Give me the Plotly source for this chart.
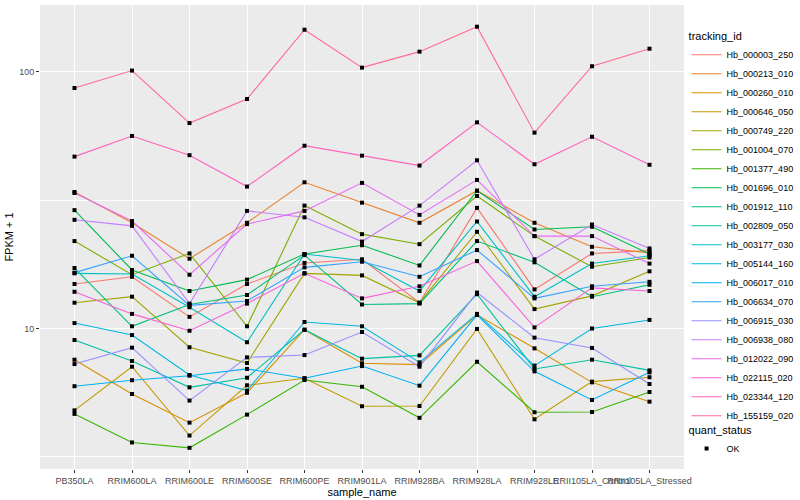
import plotly.graph_objects as go

samples = ["PB350LA", "RRIM600LA", "RRIM600LE", "RRIM600SE", "RRIM600PE", "RRIM901LA",
           "RRIM928BA", "RRIM928LA", "RRIM928LE", "RRII105LA_Control", "RRII105LA_Stressed"]

ids = ["Hb_000003_250", "Hb_000213_010", "Hb_000260_010", "Hb_000646_050", "Hb_000749_220",
       "Hb_001004_070", "Hb_001377_490", "Hb_001696_010", "Hb_001912_110", "Hb_002809_050",
       "Hb_003177_030", "Hb_005144_160", "Hb_006017_010", "Hb_006634_070", "Hb_006915_030",
       "Hb_006938_080", "Hb_012022_090", "Hb_022115_020", "Hb_023344_120", "Hb_155159_020"]

colors = ["#F8766D", "#EA8331", "#D89000", "#C09B00", "#A3A500", "#7CAE00", "#39B600", "#00BB4E",
          "#00BF7D", "#00C1A3", "#00BFC4", "#00BAE0", "#00B0F6", "#35A2FF", "#9590FF", "#C77CFF",
          "#E76BF3", "#FA62DB", "#FF62BC", "#FF6C91"]

# FPKM + 1 per gene, in the order of `samples`
Hb_000003_250 = [14.9, 15.9, 11.1, 14.9, 18.0, 18.6, 12.6, 29.5, 14.2, 19.6, 20.1]
Hb_000213_010 = [34.0, 25.8, 18.7, 25.8, 37.1, 30.9, 25.8, 34.4, 25.8, 20.8, 19.7]
Hb_000260_010 = [7.56, 5.56, 4.30, 5.62, 9.89, 7.32, 7.23, 11.3, 8.37, 6.17, 5.19]
Hb_000646_050 = [4.80, 7.10, 3.83, 6.01, 6.40, 4.98, 4.99, 9.96, 4.43, 6.21, 6.46]
Hb_000749_220 = [12.6, 13.3, 8.45, 7.34, 16.4, 16.1, 12.6, 23.8, 11.9, 13.4, 16.7]
Hb_001004_070 = [21.9, 16.2, 19.6, 10.2, 30.1, 23.3, 21.3, 32.8, 22.9, 17.4, 18.9]
Hb_001377_490 = [4.65, 3.60, 3.43, 4.62, 6.30, 5.93, 4.49, 7.42, 4.72, 4.73, 5.66]
Hb_001696_010 = [28.9, 16.9, 14.0, 15.5, 19.5, 21.1, 17.6, 34.4, 24.3, 24.9, 19.5]
Hb_001912_110 = [17.2, 10.2, 12.4, 13.5, 19.3, 12.4, 12.5, 21.9, 18.1, 13.3, 14.8]
Hb_002809_050 = [9.02, 7.47, 5.90, 6.43, 9.89, 7.63, 7.86, 13.6, 6.96, 7.56, 6.87]
Hb_003177_030 = [16.4, 16.3, 12.1, 8.84, 19.5, 18.4, 14.0, 26.1, 13.3, 17.9, 19.2]
Hb_005144_160 = [10.5, 9.43, 6.59, 5.73, 10.6, 10.2, 7.38, 11.4, 7.17, 10.0, 10.8]
Hb_006017_010 = [5.96, 6.29, 6.55, 6.96, 6.40, 7.14, 5.99, 11.3, 6.81, 5.27, 6.75]
Hb_006634_070 = [16.5, 19.2, 12.3, 12.8, 17.3, 18.2, 15.9, 20.2, 13.1, 14.6, 15.2]
Hb_006915_030 = [7.27, 8.42, 5.24, 7.72, 7.88, 9.69, 7.10, 13.8, 9.21, 8.40, 6.08]
Hb_006938_080 = [26.5, 25.1, 12.5, 28.7, 27.1, 21.8, 30.1, 45.2, 18.6, 25.4, 20.5]
Hb_012022_090 = [33.7, 26.2, 16.2, 25.5, 28.7, 36.9, 27.7, 37.9, 22.9, 22.9, 17.9]
Hb_022115_020 = [13.9, 11.4, 9.8, 12.5, 16.4, 13.1, 14.6, 18.3, 10.1, 14.4, 14.0]
Hb_023344_120 = [46.7, 56.2, 47.3, 35.7, 51.5, 47.1, 43.1, 63.5, 43.6, 55.8, 43.4]
Hb_155159_020 = [86.4, 101.0, 63.1, 78.3, 145.7, 103.7, 119.7, 149.7, 57.9, 105.0, 122.9]

series = [Hb_000003_250, Hb_000213_010, Hb_000260_010, Hb_000646_050, Hb_000749_220,
          Hb_001004_070, Hb_001377_490, Hb_001696_010, Hb_001912_110, Hb_002809_050,
          Hb_003177_030, Hb_005144_160, Hb_006017_010, Hb_006634_070, Hb_006915_030,
          Hb_006938_080, Hb_012022_090, Hb_022115_020, Hb_023344_120, Hb_155159_020]

FONT = "Liberation Sans, Arial, sans-serif"

fig = go.Figure()
for name, col, vals in zip(ids, colors, series):
    fig.add_trace(go.Scatter(x=samples, y=vals, mode="lines", name=name,
                             line=dict(color=col, width=1.1), legend="legend"))

all_x = [s for vals in series for s in samples]
all_y = [v for vals in series for v in vals]
fig.add_trace(go.Scatter(x=all_x, y=all_y, mode="markers", name="OK",
                         marker=dict(color="black", size=4, symbol="square"),
                         legend="legend2"))

axis_common = dict(showgrid=True, gridcolor="white", gridwidth=1.1, zeroline=False,
                   ticks="outside", ticklen=3, tickcolor="#333333", tickwidth=1,
                   tickfont=dict(family=FONT, size=9, color="#4D4D4D"), showline=False,
                   automargin=False)

fig.update_layout(
    width=800, height=500,
    margin=dict(l=40, r=116, t=5, b=31, autoexpand=False),
    paper_bgcolor="white", plot_bgcolor="#EBEBEB",
    font=dict(family=FONT, color="black"),
    xaxis=dict(axis_common, type="category", range=[-0.6, 10.6], tickangle=0,
               title=dict(text="sample_name", font=dict(family=FONT, size=11), standoff=1)),
    yaxis=dict(axis_common, type="log", range=[0.4529, 2.2597],
               tickvals=[10, 100], ticktext=["10", "100"],
               minor=dict(tickvals=[3.1623, 31.623], showgrid=True, gridcolor="white",
                          gridwidth=0.5, ticks=""),
               title=dict(text="FPKM + 1", font=dict(family=FONT, size=11), standoff=3)),
    legend=dict(title=dict(text="tracking_id", font=dict(family=FONT, size=11)),
                font=dict(family=FONT, size=9), x=1.004, xanchor="left", y=0.955, yanchor="top",
                itemwidth=30, bgcolor="rgba(0,0,0,0)", tracegroupgap=0),
    legend2=dict(title=dict(text="quant_status", font=dict(family=FONT, size=11)),
                 font=dict(family=FONT, size=9), x=1.004, xanchor="left", y=0.106, yanchor="top",
                 itemwidth=30, bgcolor="rgba(0,0,0,0)"),
)

fig.write_html("out.html", config={"displayModeBar": False},
               post_script="document.body.style.margin='0';")
